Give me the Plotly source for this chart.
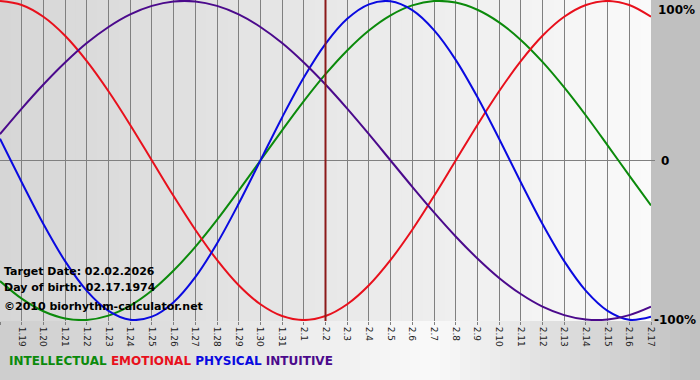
import plotly.graph_objects as go

dates = ["1.18", "1.19", "1.20", "1.21", "1.22", "1.23", "1.24", "1.25", "1.26", "1.27",
         "1.28", "1.29", "1.30", "1.31", "2.1", "2.2", "2.3", "2.4", "2.5", "2.6",
         "2.7", "2.8", "2.9", "2.10", "2.11", "2.12", "2.13", "2.14", "2.15", "2.16", "2.17"]

intellectual = [-75.6, -86.6, -94.5, -99.0, -99.9, -97.2, -91.0, -81.5, -69.0, -54.1, -37.2,
                -18.9, 0, 18.9, 37.2, 54.1, 69.0, 81.5, 91.0, 97.2, 99.9, 99.0, 94.5, 86.6,
                75.6, 61.8, 45.8, 28.2, 9.5, -9.5, -28.2]
emotional = [100, 97.5, 90.1, 78.2, 62.3, 43.4, 22.3, 0, -22.3, -43.4, -62.3, -78.2, -90.1,
             -97.5, -100, -97.5, -90.1, -78.2, -62.3, -43.4, -22.3, 0, 22.3, 43.4, 62.3,
             78.2, 90.1, 97.5, 100, 97.5, 90.1]
physical = [13.6, -13.6, -39.8, -63.1, -81.7, -94.2, -99.8, -97.9, -88.8, -73.1, -52.0,
            -27.0, 0, 27.0, 52.0, 73.1, 88.8, 97.9, 99.8, 94.2, 81.7, 63.1, 39.8, 13.6,
            -13.6, -39.8, -63.1, -81.7, -94.2, -99.8, -97.9]
intuitive = [16.5, 32.5, 47.6, 61.4, 73.6, 83.7, 91.6, 96.9, 99.7, 99.7, 96.9, 91.6, 83.7,
             73.6, 61.4, 47.6, 32.5, 16.5, 0, -16.5, -32.5, -47.6, -61.4, -73.6, -83.7,
             -91.6, -96.9, -99.7, -99.7, -96.9, -91.6]

target_label = "2.2"
y_labels = ["100%", "0", "-100%"]

series = [
    ("INTELLECTUAL", intellectual, "#0b8a0b"),
    ("EMOTIONAL", emotional, "#e8101c"),
    ("PHYSICAL", physical, "#0a0ae0"),
    ("INTUITIVE", intuitive, "#4b0a8c"),
]

W, H = 700, 380
ML, MR, MT, MB = 0, 49, 0, 59
PW, PH = W - ML - MR, H - MT - MB

x = list(range(len(dates)))
fig = go.Figure()
for name, vals, col in series:
    fig.add_trace(go.Scatter(x=x, y=vals, mode="lines", name=name,
                             line=dict(color=col, width=2, shape="spline", smoothing=1.0),
                             hoverinfo="skip"))

shapes = []


def mix(c1, c2, t):
    return "rgb(%d,%d,%d)" % tuple(round(a + (b - a) * t) for a, b in zip(c1, c2))


# plot-area gradient (light grey -> near white)
n = 60
for k in range(n):
    x0 = k / n
    x1 = (k + 1) / n
    shapes.append(dict(type="rect", xref="x domain", yref="y domain", x0=x0, x1=x1 + 0.002,
                       y0=0, y1=1, line=dict(width=0),
                       fillcolor=mix((214, 214, 214), (250, 250, 250), (k + 0.5) / n),
                       layer="below"))

# bottom area gradient (paper)
m = 70
for k in range(m):
    t = (k + 0.5) / m
    px = t * W
    if px < 430:
        c = mix((205, 205, 205), (250, 250, 250), px / 430)
    else:
        c = mix((250, 250, 250), (192, 192, 192), (px - 430) / (W - 430))
    shapes.append(dict(type="rect", xref="paper", yref="paper",
                       x0=(k * W / m) / PW, x1=((k + 1) * W / m + 1) / PW,
                       y0=-MB / PH, y1=0, line=dict(width=0), fillcolor=c, layer="below"))
# right margin grey
shapes.append(dict(type="rect", xref="paper", yref="paper", x0=1, x1=(PW + MR) / PW,
                   y0=0, y1=1, line=dict(width=0), fillcolor="#c0c0c0", layer="below"))

# target date line
ti = dates.index(target_label)
shapes.append(dict(type="line", xref="x", yref="y domain", x0=ti, x1=ti, y0=0, y1=1,
                   line=dict(color="#8b1a1a", width=2), layer="above"))

# zero tick stub to the right
shapes.append(dict(type="line", xref="paper", yref="y", x0=1, x1=1 + 4 / PW, y0=0, y1=0,
                   line=dict(color="#808080", width=1)))


def py(ypix):
    return (PH - ypix) / PH


annotations = []
txt_font = dict(family="DejaVu Sans", size=11, color="#000000")
for txt, yp in [("<b>Target Date: 02.02.2026</b>", 271),
                ("<b>Day of birth: 02.17.1974</b>", 287),
                ("<b>©2010 biorhythm-calculator.net</b>", 306)]:
    annotations.append(dict(text=txt, xref="paper", yref="paper", x=2 / PW, y=py(yp),
                            xanchor="left", yanchor="middle", showarrow=False, font=txt_font))

# y labels on the right
for lab, yv, yanc, xs in [(y_labels[0], 100, "top", 5), (y_labels[1], 0, "middle", 8),
                          (y_labels[2], -100, "middle", 1)]:
    annotations.append(dict(text="<b>%s</b>" % lab, xref="paper", yref="y", x=1, y=yv,
                            xanchor="left", yanchor=yanc, xshift=xs, showarrow=False,
                            font=dict(family="DejaVu Sans", size=12, color="#000000")))

legend_txt = "&nbsp;".join('<span style="color:%s">%s</span>' % (c, n) for n, v, c in series)
annotations.append(dict(text="<b>%s</b>" % legend_txt, xref="paper", yref="paper",
                        x=7 / PW, y=py(361), xanchor="left", yanchor="middle",
                        showarrow=False, font=dict(family="DejaVu Sans", size=12)))

fig.update_layout(
    width=W, height=H,
    margin=dict(l=ML, r=MR, t=MT, b=MB, pad=0, autoexpand=False),
    paper_bgcolor="#ffffff",
    plot_bgcolor="rgba(0,0,0,0)",
    showlegend=False,
    shapes=shapes,
    annotations=annotations,
    xaxis=dict(range=[0, len(dates) - 1], tickmode="array", tickvals=x, ticktext=dates,
               tickangle=90, showgrid=True, gridcolor="#808080", gridwidth=1,
               ticks="outside", ticklen=3, tickcolor="#808080",
               tickfont=dict(family="DejaVu Sans", size=9, color="#202020"),
               zeroline=False, showline=False, fixedrange=True, automargin=False),
    yaxis=dict(range=[-100.6, 100.6], showgrid=False, zeroline=True, zerolinecolor="#808080",
               zerolinewidth=1, showticklabels=False, ticks="", showline=False,
               fixedrange=True, automargin=False),
)

fig.write_html("out.html", config={"displayModeBar": False},
               post_script="document.body.style.margin='0px';document.body.style.overflow='hidden';")
